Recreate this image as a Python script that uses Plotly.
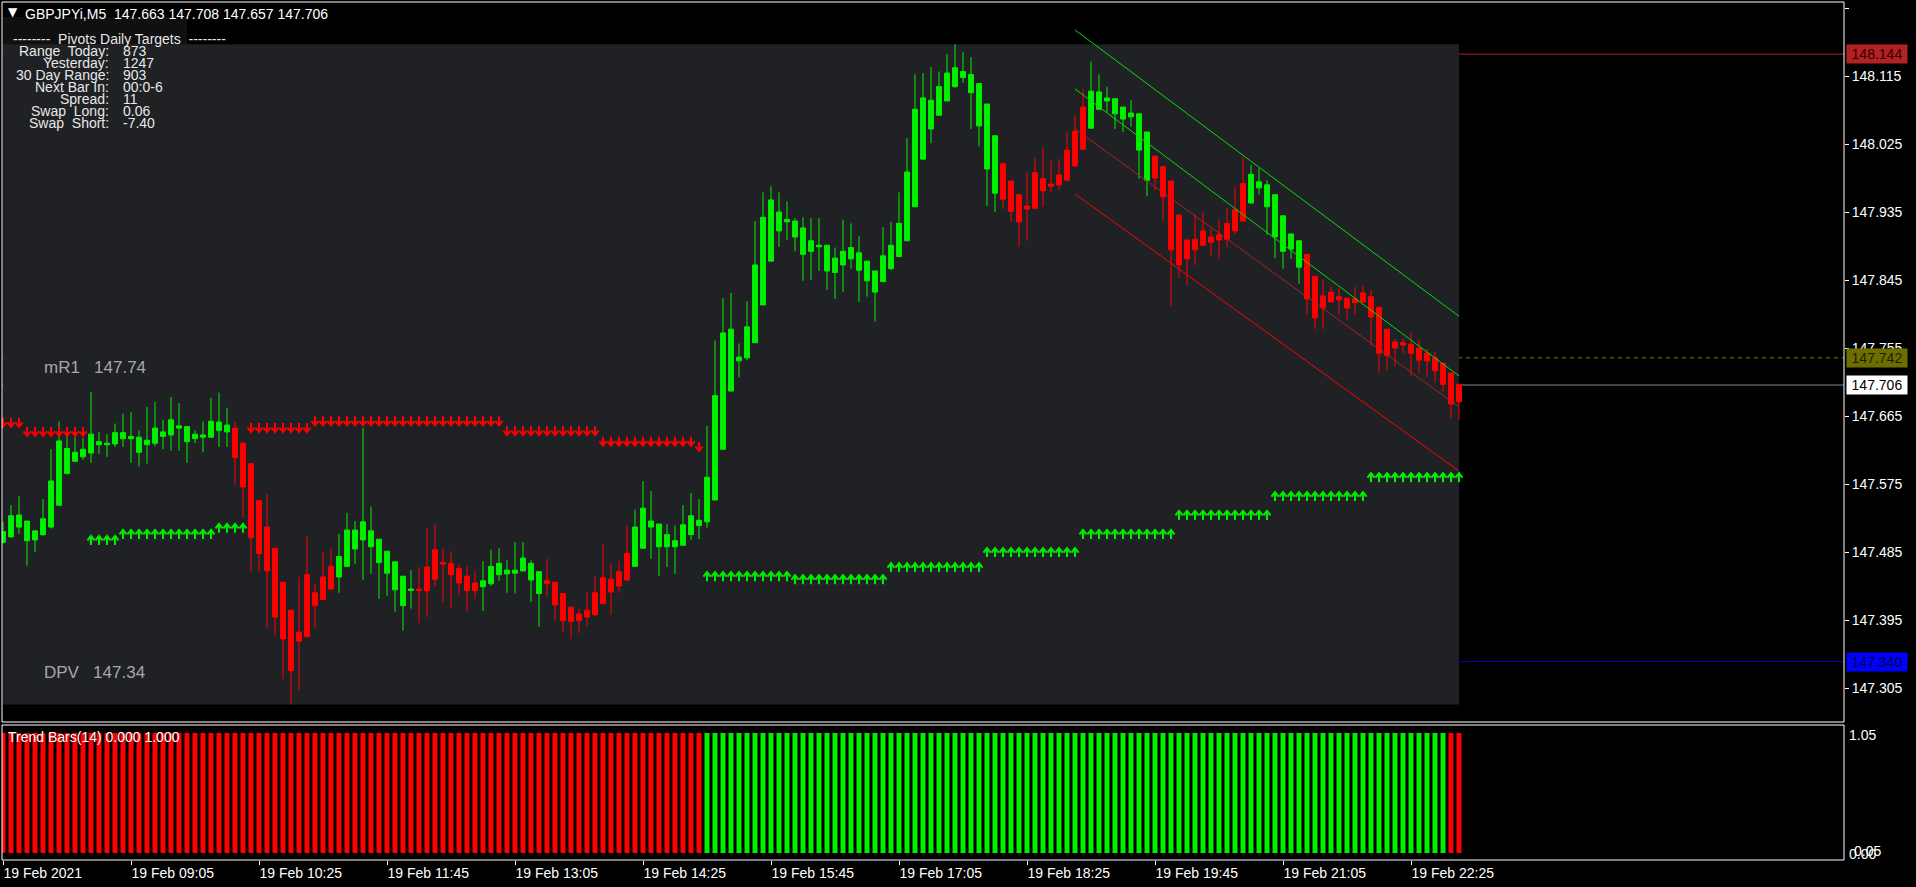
import plotly.graph_objects as go
from datetime import datetime, timedelta

# ---------------- data ----------------
SYMBOL = "GBPJPYi,M5"
HEADER_OHLC = [147.663, 147.708, 147.657, 147.706]
START = datetime(2021, 2, 19, 7, 45)
BAR_MINUTES = 5

opens = [147.498, 147.505, 147.518, 147.500, 147.501, 147.508, 147.518, 147.547, 147.589, 147.605,
         147.611, 147.616, 147.627, 147.627, 147.628, 147.635, 147.635, 147.617, 147.627, 147.629,
         147.638, 147.640, 147.649, 147.631, 147.635, 147.637, 147.637, 147.646, 147.644, 147.649,
         147.629, 147.602, 147.553, 147.518, 147.490, 147.445, 147.408, 147.379, 147.455, 147.431,
         147.452, 147.466, 147.452, 147.466, 147.489, 147.501, 147.492, 147.471, 147.457, 147.435,
         147.414, 147.434, 147.436, 147.465, 147.488, 147.471, 147.470, 147.463, 147.453, 147.444,
         147.439, 147.443, 147.455, 147.456, 147.457, 147.460, 147.448, 147.430, 147.447, 147.445,
         147.430, 147.412, 147.403, 147.408, 147.431, 147.451, 147.449, 147.459, 147.483, 147.466,
         147.490, 147.518, 147.492, 147.492, 147.492, 147.494, 147.508, 147.520, 147.525, 147.554,
         147.621, 147.698, 147.738, 147.742, 147.762, 147.812, 147.870, 147.910, 147.922, 147.902,
         147.879, 147.883, 147.889, 147.857, 147.855, 147.865, 147.873, 147.858, 147.844, 147.829,
         147.843, 147.860, 147.876, 147.897, 147.942, 148.005, 148.045, 148.063, 148.082, 148.101,
         148.113, 148.093, 148.049, 147.992, 147.960, 147.999, 147.976, 147.958, 147.943, 147.987,
         147.979, 147.972, 147.984, 148.017, 148.042, 148.074, 148.046, 148.071, 148.082, 148.065,
         148.058, 148.061, 148.017, 147.977, 148.009, 147.995, 147.976, 147.931, 147.898, 147.899,
         147.910, 147.902, 147.905, 147.920, 147.938, 147.973, 147.947, 147.967, 147.942, 147.902,
         147.883, 147.886, 147.862, 147.879, 147.850, 147.824, 147.829, 147.823, 147.821, 147.820,
         147.828, 147.823, 147.809, 147.780, 147.763, 147.762, 147.760, 147.755, 147.748, 147.742,
         147.735, 147.722, 147.707]

highs = [147.525, 147.547, 147.559, 147.526, 147.513, 147.555, 147.621, 147.658, 147.646, 147.637,
         147.636, 147.697, 147.644, 147.641, 147.655, 147.668, 147.670, 147.646, 147.677, 147.684,
         147.660, 147.690, 147.682, 147.652, 147.646, 147.658, 147.689, 147.696, 147.676, 147.657,
         147.631, 147.602, 147.553, 147.562, 147.490, 147.445, 147.408, 147.452, 147.506, 147.443,
         147.485, 147.490, 147.509, 147.537, 147.526, 147.649, 147.545, 147.502, 147.486, 147.472,
         147.453, 147.461, 147.465, 147.517, 147.522, 147.490, 147.486, 147.469, 147.466, 147.460,
         147.473, 147.488, 147.490, 147.474, 147.498, 147.498, 147.474, 147.459, 147.476, 147.445,
         147.430, 147.412, 147.410, 147.432, 147.453, 147.496, 147.470, 147.473, 147.520, 147.541,
         147.579, 147.566, 147.522, 147.522, 147.520, 147.547, 147.563, 147.555, 147.652, 147.765,
         147.821, 147.828, 147.761, 147.817, 147.923, 147.961, 147.969, 147.961, 147.949, 147.927,
         147.928, 147.927, 147.927, 147.891, 147.888, 147.925, 147.920, 147.903, 147.870, 147.857,
         147.915, 147.922, 147.961, 148.033, 148.117, 148.119, 148.127, 148.121, 148.144, 148.157,
         148.147, 148.140, 148.105, 148.078, 148.036, 147.999, 147.976, 147.958, 147.988, 148.007,
         148.021, 148.003, 148.005, 148.041, 148.063, 148.098, 148.134, 148.117, 148.101, 148.085,
         148.074, 148.083, 148.065, 148.041, 148.009, 147.995, 147.976, 147.931, 147.898, 147.932,
         147.935, 147.913, 147.926, 147.940, 147.968, 148.008, 147.997, 147.993, 147.977, 147.958,
         147.930, 147.906, 147.897, 147.879, 147.850, 147.846, 147.836, 147.834, 147.821, 147.836,
         147.838, 147.832, 147.809, 147.780, 147.767, 147.768, 147.776, 147.766, 147.754, 147.750,
         147.735, 147.722, 147.707]

lows = [147.496, 147.504, 147.509, 147.467, 147.485, 147.506, 147.516, 147.546, 147.588, 147.604,
        147.607, 147.603, 147.615, 147.611, 147.624, 147.624, 147.603, 147.598, 147.602, 147.625,
        147.621, 147.619, 147.619, 147.603, 147.629, 147.617, 147.636, 147.624, 147.624, 147.574,
        147.531, 147.459, 147.459, 147.384, 147.375, 147.317, 147.283, 147.302, 147.373, 147.384,
        147.422, 147.435, 147.431, 147.465, 147.469, 147.448, 147.456, 147.423, 147.427, 147.406,
        147.381, 147.410, 147.391, 147.399, 147.440, 147.418, 147.410, 147.428, 147.406, 147.423,
        147.407, 147.440, 147.447, 147.431, 147.430, 147.459, 147.419, 147.386, 147.426, 147.394,
        147.379, 147.370, 147.378, 147.386, 147.400, 147.415, 147.402, 147.431, 147.447, 147.466,
        147.489, 147.476, 147.453, 147.465, 147.456, 147.494, 147.501, 147.502, 147.517, 147.553,
        147.621, 147.698, 147.716, 147.739, 147.762, 147.812, 147.870, 147.889, 147.898, 147.883,
        147.844, 147.845, 147.857, 147.832, 147.820, 147.829, 147.860, 147.816, 147.823, 147.790,
        147.843, 147.858, 147.876, 147.897, 147.942, 148.005, 148.026, 148.063, 148.082, 148.099,
        148.106, 148.045, 148.022, 147.943, 147.935, 147.939, 147.922, 147.889, 147.897, 147.940,
        147.942, 147.961, 147.964, 147.977, 147.995, 148.018, 148.046, 148.070, 148.067, 148.045,
        148.041, 148.048, 147.979, 147.956, 147.964, 147.923, 147.811, 147.848, 147.838, 147.865,
        147.890, 147.876, 147.873, 147.888, 147.906, 147.923, 147.946, 147.958, 147.905, 147.874,
        147.860, 147.873, 147.840, 147.799, 147.780, 147.780, 147.816, 147.799, 147.793, 147.799,
        147.816, 147.758, 147.722, 147.725, 147.731, 147.748, 147.718, 147.722, 147.717, 147.709,
        147.697, 147.662, 147.660]

closes = [147.512, 147.533, 147.534, 147.526, 147.513, 147.529, 147.579, 147.632, 147.622, 147.617,
          147.621, 147.641, 147.631, 147.629, 147.643, 147.643, 147.638, 147.637, 147.633, 147.649,
          147.644, 147.660, 147.652, 147.651, 147.641, 147.640, 147.658, 147.657, 147.653, 147.610,
          147.571, 147.504, 147.483, 147.460, 147.399, 147.370, 147.328, 147.367, 147.373, 147.414,
          147.422, 147.436, 147.479, 147.514, 147.514, 147.525, 147.513, 147.502, 147.486, 147.472,
          147.453, 147.436, 147.434, 147.434, 147.449, 147.469, 147.455, 147.444, 147.434, 147.434,
          147.447, 147.466, 147.470, 147.461, 147.461, 147.477, 147.470, 147.459, 147.443, 147.415,
          147.394, 147.393, 147.394, 147.399, 147.402, 147.417, 147.432, 147.440, 147.448, 147.518,
          147.543, 147.526, 147.522, 147.508, 147.500, 147.521, 147.533, 147.527, 147.584, 147.692,
          147.775, 147.780, 147.743, 147.783, 147.865, 147.928, 147.951, 147.935, 147.925, 147.923,
          147.914, 147.897, 147.891, 147.891, 147.874, 147.883, 147.888, 147.881, 147.870, 147.857,
          147.877, 147.891, 147.920, 147.988, 148.071, 148.086, 148.083, 148.101, 148.119, 148.126,
          148.121, 148.117, 148.105, 148.078, 148.036, 147.952, 147.936, 147.922, 147.939, 147.940,
          147.963, 147.969, 147.971, 147.977, 147.996, 148.018, 148.095, 148.094, 148.086, 148.085,
          148.074, 148.066, 148.065, 148.041, 147.980, 147.955, 147.885, 147.865, 147.873, 147.885,
          147.891, 147.895, 147.898, 147.899, 147.910, 147.923, 147.985, 147.975, 147.971, 147.958,
          147.930, 147.906, 147.897, 147.820, 147.795, 147.808, 147.816, 147.819, 147.808, 147.815,
          147.816, 147.796, 147.748, 147.745, 147.755, 147.759, 147.748, 147.739, 147.738, 147.725,
          147.707, 147.681, 147.684]

# resistance (red down arrows) and support (green up arrows): (first bar, last bar, price)
res_segments = [(0, 2, 147.656), (3, 10, 147.644), (31, 38, 147.649), (39, 62, 147.658),
                (63, 74, 147.645), (75, 86, 147.631), (87, 87, 147.624)]
sup_segments = [(11, 14, 147.501), (15, 26, 147.509), (27, 30, 147.517), (88, 98, 147.453),
                (99, 110, 147.449), (111, 122, 147.465), (123, 134, 147.485), (135, 146, 147.509),
                (147, 158, 147.534), (159, 170, 147.559), (171, 182, 147.584)]

# Trend Bars(14) direction runs
trend_runs = [("down", 88), ("up", 93), ("down", 2)]

# channel lines (bar index -> price)
chan_x = [134, 182]
chan_green_upper = [148.176, 147.797]
chan_green_lower = [148.098, 147.718]
chan_red_upper = [148.045, 147.677]
chan_red_lower = [147.959, 147.592]

LEVEL_RED = 148.144
LEVEL_MR1 = 147.742
LEVEL_BID = 147.706
LEVEL_DPV = 147.340

price_ticks = [148.205, 148.115, 148.025, 147.935, 147.845, 147.755, 147.665,
               147.575, 147.485, 147.395, 147.305]
time_tick_labels = ["19 Feb 2021", "19 Feb 09:05", "19 Feb 10:25", "19 Feb 11:45", "19 Feb 13:05",
                    "19 Feb 14:25", "19 Feb 15:45", "19 Feb 17:05", "19 Feb 18:25", "19 Feb 19:45",
                    "19 Feb 21:05", "19 Feb 22:25"]

info_title = "--------  Pivots Daily Targets  --------"
info_labels = ["Range  Today:", "Yesterday:", "30 Day Range:", "Next Bar In:", "Spread:",
               "Swap  Long:", "Swap  Short:"]
info_values = ["873", "1247", "903", "00:0-6", "11", "0.06", "-7.40"]
indicator_title = "Trend Bars(14) 0.000 1.000"

# ---------------- styling / geometry ----------------
W, H = 1916, 887
ML, MR, MT, MB = 2, 72, 2, 27
PW, PH = W - ML - MR, H - MT - MB
FONT = "Liberation Sans"
GREEN = "#00f000"
RED = "#ff0000"
Y_RANGE = [147.260, 148.213]
Y_DOMAIN_PX = 720  # main panel height in pixels
PX = (Y_RANGE[1] - Y_RANGE[0]) / Y_DOMAIN_PX  # price per pixel


def fx(px):
    return (px - ML) / PW


def fy(py):
    return (H - MB - py) / PH


n = len(opens)
idx = list(range(n))
bar_times = [START + timedelta(minutes=BAR_MINUTES * i) for i in idx]
time_keys = [t.strftime("%H:%M") for t in bar_times]
tick_idx = [0] + [time_keys.index(lbl.split()[-1]) for lbl in time_tick_labels[1:]]


def arrow_paths(segments, direction):
    """Arrow glyph outlines (chevron head + stem) around each bar's level."""
    xs, ys = [], []
    s = 1 if direction == "down" else -1
    for a, b, lvl in segments:
        for i in range(a, b + 1):
            tip = lvl - s * 4 * PX
            arm = lvl + s * 0.5 * PX
            stem = lvl + s * 5 * PX
            xs += [i - 0.44, i, i + 0.44, None, i, i, None]
            ys += [arm, tip, arm, None, stem, tip, None]
    return xs, ys


res_x, res_y = arrow_paths(res_segments, "down")
sup_x, sup_y = arrow_paths(sup_segments, "up")

trend_colors = []
for d, cnt in trend_runs:
    trend_colors += [RED if d == "down" else GREEN] * cnt

fig = go.Figure()

fig.add_trace(go.Candlestick(
    x=idx, open=opens, high=highs, low=lows, close=closes,
    increasing=dict(line=dict(color=GREEN, width=1), fillcolor=GREEN),
    decreasing=dict(line=dict(color=RED, width=1), fillcolor=RED),
    whiskerwidth=0, hoverinfo="skip", showlegend=False, xaxis="x", yaxis="y"))

fig.add_trace(go.Scatter(x=res_x, y=res_y, mode="lines", line=dict(color=RED, width=2),
                         connectgaps=False, hoverinfo="skip", showlegend=False, xaxis="x", yaxis="y"))
fig.add_trace(go.Scatter(x=sup_x, y=sup_y, mode="lines", line=dict(color=GREEN, width=2),
                         connectgaps=False, hoverinfo="skip", showlegend=False, xaxis="x", yaxis="y"))

for ys, col in [(chan_green_upper, "#00e000"), (chan_green_lower, "#00e000"),
                (chan_red_upper, "#b02020"), (chan_red_lower, "#ff0000")]:
    fig.add_trace(go.Scatter(x=chan_x, y=ys, mode="lines", line=dict(color=col, width=1),
                             hoverinfo="skip", showlegend=False, xaxis="x", yaxis="y"))

fig.add_trace(go.Bar(x=idx, y=[1] * n, width=0.62, marker=dict(color=trend_colors, line=dict(width=0)),
                     hoverinfo="skip", showlegend=False, xaxis="x2", yaxis="y2"))

shapes = [
    dict(type="rect", xref="x", yref="y", x0=0, x1=n - 1, y0=min(lows), y1=max(highs),
         fillcolor="#1f2125", line=dict(width=0), layer="below"),
    dict(type="line", xref="paper", yref="y", x0=0, x1=1, y0=LEVEL_RED, y1=LEVEL_RED,
         line=dict(color="#b22222", width=1), layer="below"),
    dict(type="line", xref="paper", yref="y", x0=0, x1=1, y0=LEVEL_MR1, y1=LEVEL_MR1,
         line=dict(color="#808000", width=1, dash="4px,4px"), layer="below"),
    dict(type="line", xref="paper", yref="y", x0=0, x1=1, y0=LEVEL_BID, y1=LEVEL_BID,
         line=dict(color="#778899", width=1), layer="below"),
    dict(type="line", xref="x", yref="y", x0=n - 1, x1=240, y0=LEVEL_DPV, y1=LEVEL_DPV,
         line=dict(color="#0000cd", width=1), layer="below"),
    dict(type="rect", xref="paper", yref="paper", x0=fx(3), x1=fx(187), y0=fy(200), y1=fy(17),
         fillcolor="#101010", line=dict(width=0), layer="below"),
    dict(type="rect", xref="paper", yref="paper", x0=0, x1=1, y0=fy(722), y1=1,
         line=dict(color="white", width=1), layer="above"),
    dict(type="rect", xref="paper", yref="paper", x0=0, x1=1, y0=0, y1=fy(725),
         line=dict(color="white", width=1), layer="above"),
]

ann = []
ann.append(dict(xref="paper", yref="paper", x=fx(6), y=fy(12), xanchor="left", yanchor="middle",
                text="▼", showarrow=False, font=dict(family="DejaVu Sans", size=12, color="white")))
ann.append(dict(xref="paper", yref="paper", x=fx(23), y=fy(14), xanchor="left", yanchor="middle",
                text=SYMBOL + "  " + " ".join(f"{v:.3f}" for v in HEADER_OHLC),
                showarrow=False, font=dict(family=FONT, size=14, color="white")))
ann.append(dict(xref="paper", yref="paper", x=fx(11), y=fy(39), xanchor="left", yanchor="middle",
                text=info_title, showarrow=False, font=dict(family=FONT, size=14, color="#e8e8e8")))
for k, (lb, vl) in enumerate(zip(info_labels, info_values)):
    yy = fy(51 + 12 * k)
    ann.append(dict(xref="paper", yref="paper", x=fx(111), y=yy, xanchor="right", yanchor="middle",
                    text=lb, showarrow=False, font=dict(family=FONT, size=14, color="#e8e8e8")))
    ann.append(dict(xref="paper", yref="paper", x=fx(121), y=yy, xanchor="left", yanchor="middle",
                    text=vl, showarrow=False, font=dict(family=FONT, size=14, color="#e8e8e8")))

ann.append(dict(xref="paper", yref="y", x=fx(42), y=LEVEL_MR1, yshift=-10, xanchor="left",
                yanchor="middle", text=f"mR1   {LEVEL_MR1:.2f}", showarrow=False,
                font=dict(family=FONT, size=17, color="#a8a8a8")))
ann.append(dict(xref="paper", yref="y", x=fx(42), y=LEVEL_DPV, yshift=-11, xanchor="left",
                yanchor="middle", text=f"DPV   {LEVEL_DPV:.2f}", showarrow=False,
                font=dict(family=FONT, size=17, color="#a8a8a8")))

for lvl, bg, fg in [(LEVEL_RED, "#b22222", "#300000"), (LEVEL_MR1, "#6e6e00", "#1e1e00"),
                    (LEVEL_BID, "#ffffff", "#000000"), (LEVEL_DPV, "#0000ff", "#000040")]:
    ann.append(dict(xref="paper", yref="y", x=fx(1846), y=lvl, xanchor="left", yanchor="middle",
                    text=f"{lvl:.3f}", showarrow=False, bgcolor=bg, width=58, height=16,
                    borderpad=1, align="center", font=dict(family=FONT, size=14, color=fg)))

ann.append(dict(xref="paper", yref="paper", x=fx(6), y=fy(737), xanchor="left", yanchor="middle",
                text=indicator_title, showarrow=False, font=dict(family=FONT, size=14, color="white")))
ann.append(dict(xref="paper", yref="paper", x=fx(1847), y=fy(735), xanchor="left", yanchor="middle",
                text="1.05", showarrow=False, font=dict(family=FONT, size=14, color="white")))
ann.append(dict(xref="paper", yref="paper", x=fx(1847), y=fy(854), xanchor="left", yanchor="middle",
                text="0.00", showarrow=False, font=dict(family=FONT, size=14, color="white")))
ann.append(dict(xref="paper", yref="paper", x=fx(1852), y=fy(851), xanchor="left", yanchor="middle",
                text="0.05", showarrow=False, font=dict(family=FONT, size=14, color="white")))

xr = [-0.125, 230.125]
fig.update_layout(
    template="none",
    width=W, height=H, margin=dict(l=ML, r=MR, t=MT, b=MB, pad=0, autoexpand=False),
    paper_bgcolor="black", plot_bgcolor="black", showlegend=False,
    boxgap=0.38, boxgroupgap=0,
    xaxis=dict(domain=[0, 1], range=xr, anchor="y", showticklabels=False, ticks="",
               automargin=False,
               showgrid=False, zeroline=False, showline=False, rangeslider=dict(visible=False)),
    xaxis2=dict(domain=[0, 1], range=xr, anchor="y2", matches="x", tickmode="array",
                tickvals=tick_idx, ticktext=time_tick_labels, ticks="outside", ticklen=4,
                tickcolor="white", ticklabelposition="outside right", automargin=False,
                tickfont=dict(family=FONT, size=14, color="white"),
                showgrid=False, zeroline=False, showline=False, rangeslider=dict(visible=False)),
    yaxis=dict(domain=[fy(722), 1], range=Y_RANGE, anchor="x", side="right",
               tickmode="array", tickvals=price_ticks, ticktext=[f"{v:.3f}" for v in price_ticks],
               ticks="outside", ticklen=4, tickcolor="white", automargin=False,
               tickfont=dict(family=FONT, size=14, color="white"),
               showgrid=False, zeroline=False, showline=False),
    yaxis2=dict(domain=[0, fy(725)], range=[-0.0583, 1.0667], anchor="x2", side="right",
                showticklabels=False, ticks="", showgrid=False, zeroline=False, showline=False,
                automargin=False),
    shapes=shapes, annotations=ann,
)

fig.write_html("out.html", config={"displayModeBar": False},
               post_script="document.body.style.margin='0';document.body.style.padding='0';"
                           "document.body.style.background='black';")
